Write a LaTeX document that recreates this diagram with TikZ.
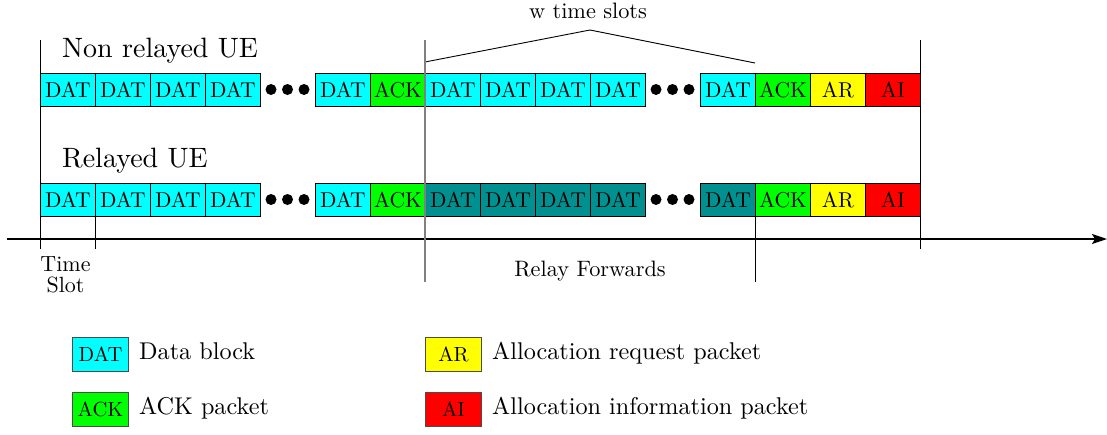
\documentclass[tikz,border=0pt]{standalone}
\usepackage{fontspec}
\setmainfont{lmroman10-regular.otf}
\usetikzlibrary{arrows.meta}
\definecolor{datc}{RGB}{0,255,255}
\definecolor{ackc}{RGB}{0,255,0}
\definecolor{arc}{RGB}{255,255,0}
\definecolor{aic}{RGB}{255,0,0}
\definecolor{fwdc}{RGB}{0,144,144}
\definecolor{sepc}{RGB}{128,128,128}
\begin{document}
\begin{tikzpicture}[x=1pt,y=-1pt,
  pkt/.style={draw=black, line width=0.8pt, minimum width=55pt, minimum height=33pt,
    inner sep=0pt, anchor=north west, font=\fontsize{21.5}{24}\selectfont},
  legbox/.style={draw=black!70, line width=1pt, minimum width=56pt, minimum height=34pt,
    inner sep=0pt, anchor=north west, font=\fontsize{20.5}{24}\selectfont},
  dotn/.style={circle, fill=black, inner sep=0pt, minimum size=11pt},
  title/.style={anchor=base west, inner sep=0pt, font=\fontsize{28}{34}\selectfont},
  lab/.style={anchor=base, inner sep=0pt, font=\fontsize{22.3}{28}\selectfont},
  legtxt/.style={anchor=base west, inner sep=0pt, font=\fontsize{24.2}{30}\selectfont},
  thin/.style={line width=0.9pt},
  sepline/.style={draw=sepc, line width=1.6pt}]
\useasboundingbox (0,0) rectangle (1107,434);

% titles
\node[title] (t1) at (62,57) {Non relayed UE};
\node[title] (t2) at (62,167) {Relayed UE};
\node[lab] (wts) at (588,18) {w time slots};

% row 1
\foreach \i/\t/\c in {0/DAT/datc,1/DAT/datc,2/DAT/datc,3/DAT/datc,5/DAT/datc,6/ACK/ackc,
  7/DAT/datc,8/DAT/datc,9/DAT/datc,10/DAT/datc,12/DAT/datc,13/ACK/ackc,14/AR/arc,15/AI/aic}
  \node[pkt, fill=\c] (a\i) at ({40+55*\i},73) {\t};
% row 2
\foreach \i/\t/\c in {0/DAT/datc,1/DAT/datc,2/DAT/datc,3/DAT/datc,5/DAT/datc,6/ACK/ackc,
  7/DAT/fwdc,8/DAT/fwdc,9/DAT/fwdc,10/DAT/fwdc,12/DAT/fwdc,13/ACK/ackc,14/AR/arc,15/AI/aic}
  \node[pkt, fill=\c] (b\i) at ({40+55*\i},183) {\t};

% dots
\foreach \r/\y in {a/89.5,b/199.5}{
  \foreach \k/\x in {1/271,2/287.5,3/304}
    \node[dotn] (\r d1\k) at (\x,\y) {};
  \foreach \k/\x in {1/656,2/672.5,3/689}
    \node[dotn] (\r d2\k) at (\x,\y) {};
}

% brace for w time slots
\coordinate (wl) at (425,62);
\coordinate (wp) at (590,30);
\coordinate (wr) at (755,63);
\draw[thin] (wl) -- (wp) -- (wr);

% time axis
\coordinate (ax0) at (7,239);
\coordinate (ax1) at (1107,239);
\draw[line width=1.8pt, -{Stealth[length=15pt,width=10pt,inset=3pt]}] (ax0) -- (ax1);

% vertical markers
\coordinate (v40t) at (40,40);   \coordinate (v40b) at (40,249);
\coordinate (v95t) at (95,216);  \coordinate (v95b) at (95,249);
\coordinate (v425t) at (425,40); \coordinate (v425b) at (425,282);
\coordinate (v755t) at (755,216);\coordinate (v755b) at (755,282);
\coordinate (v920t) at (920,40); \coordinate (v920b) at (920,249);
\draw[thin] (v40t) -- (v40b);
\draw[thin] (v95t) -- (v95b);
\draw[sepline] (v425t) -- (v425b);
\draw[thin] (v755t) -- (v755b);
\draw[thin] (v920t) -- (v920b);

% axis labels
\node[anchor=north, inner sep=0pt, align=center, font=\fontsize{22}{21}\selectfont] (ts) at (65.5,256) {Time\\Slot};
\node[lab] (rf) at (590,276) {Relay Forwards};

% legend
\node[legbox, fill=datc] (ld) at (72,337) {DAT};
\node[legtxt] (ldt) at (139,359) {Data block};
\node[legbox, fill=ackc] (la) at (72,392) {ACK};
\node[legtxt] (lat) at (139,414) {ACK packet};
\node[legbox, fill=arc] (lr) at (425,337) {AR};
\node[legtxt] (lrt) at (492,359) {Allocation request packet};
\node[legbox, fill=aic] (li) at (425,392) {AI};
\node[legtxt] (lit) at (492,414) {Allocation information packet};
\end{tikzpicture}
\end{document}
